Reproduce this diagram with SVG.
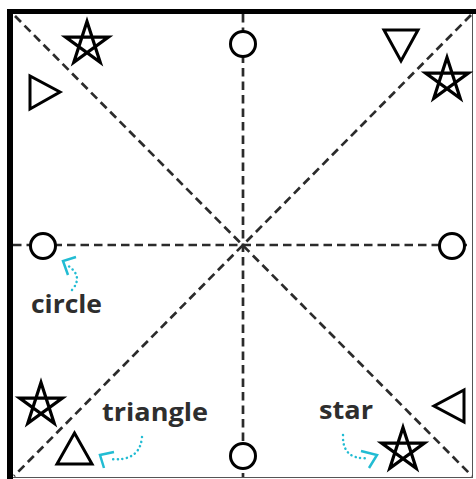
<svg xmlns="http://www.w3.org/2000/svg" width="476" height="479" viewBox="0 0 476 479">
<style>
.dash{stroke:#2b2b2b;stroke-width:2.7;stroke-dasharray:8.5 5;fill:none}
.shape{fill:#fff;stroke:#000;stroke-width:3;stroke-linejoin:miter}
.star{fill:none;stroke:#000;stroke-width:3.2;stroke-linejoin:miter}
.lbl{font-family:"Open Sans","Liberation Sans",sans-serif;font-weight:700;font-size:25px;fill:#2e2e2e}
.dot{fill:none;stroke:#22bcd3;stroke-width:2.5;stroke-dasharray:0.1 4.5;stroke-linecap:round}
.head{fill:none;stroke:#22bcd3;stroke-width:2.5;stroke-linecap:butt;stroke-linejoin:miter}
</style>
<defs>
<path id="star" d="M0,-22.5 L13.2,18.2 L-21.4,-6.95 L21.4,-6.95 L-13.2,18.2 Z"/>
</defs>
<rect width="476" height="479" fill="#fff"/>
<g id="frame">
<line x1="472.5" y1="14" x2="472.5" y2="477" stroke="#555" stroke-width="1"/>
<line x1="10" y1="477.5" x2="473" y2="477.5" stroke="#555" stroke-width="1"/>
<line x1="10" y1="11.5" x2="476" y2="11.5" stroke="#000" stroke-width="5"/>
<line x1="10" y1="9" x2="10" y2="479" stroke="#000" stroke-width="6"/>
</g>
<g id="connectors">
<line class="dash" x1="243" y1="14" x2="243" y2="477"/>
<line class="dash" x1="13" y1="245" x2="472" y2="245"/>
<line class="dash" x1="15" y1="16" x2="472" y2="476"/>
<line class="dash" x1="471" y1="15" x2="14" y2="476"/>
</g>
<g id="circle-top"><circle class="shape" cx="243" cy="44" r="12.5"/></g>
<g id="circle-bottom"><circle class="shape" cx="243" cy="456" r="12.5"/></g>
<g id="circle-left"><circle class="shape" cx="43" cy="246" r="12.5"/></g>
<g id="circle-right"><circle class="shape" cx="452" cy="246" r="12.5"/></g>
<g id="star-tl"><use href="#star" class="star" transform="translate(87,44)"/></g>
<g id="star-tr"><use href="#star" class="star" transform="translate(447,80)"/></g>
<g id="star-bl"><use href="#star" class="star" transform="translate(41,405)"/></g>
<g id="star-br"><use href="#star" class="star" transform="translate(403,450)"/></g>
<g id="tri-left"><polygon class="shape" fill="none" points="30,76 30,109 60,92"/></g>
<g id="tri-top"><polygon class="shape" points="384,30 418,30 401,61"/></g>
<g id="tri-bottom"><polygon class="shape" points="57,464 92,464 74.5,433"/></g>
<g id="tri-right"><polygon class="shape" points="464,390 464,422 434,406"/></g>
<g id="label-circle">
<path class="dot" d="M72,290 Q84,276 67,265"/>
<path class="head" d="M76,257 L63,261 L68,275"/>
<text class="lbl" x="31" y="313" textLength="71" lengthAdjust="spacingAndGlyphs">circle</text>
</g>
<g id="label-triangle">
<path class="dot" d="M142,437 Q140,462 110,459"/>
<path class="head" d="M114,452 L100,455 L104,468"/>
<text class="lbl" x="102" y="421" textLength="106" lengthAdjust="spacingAndGlyphs">triangle</text>
</g>
<g id="label-star">
<path class="dot" d="M343,435 Q342,460 368,458"/>
<path class="head" d="M361,451 L377,455 L369,468"/>
<text class="lbl" x="319" y="419" textLength="54" lengthAdjust="spacingAndGlyphs">star</text>
</g>
</svg>
